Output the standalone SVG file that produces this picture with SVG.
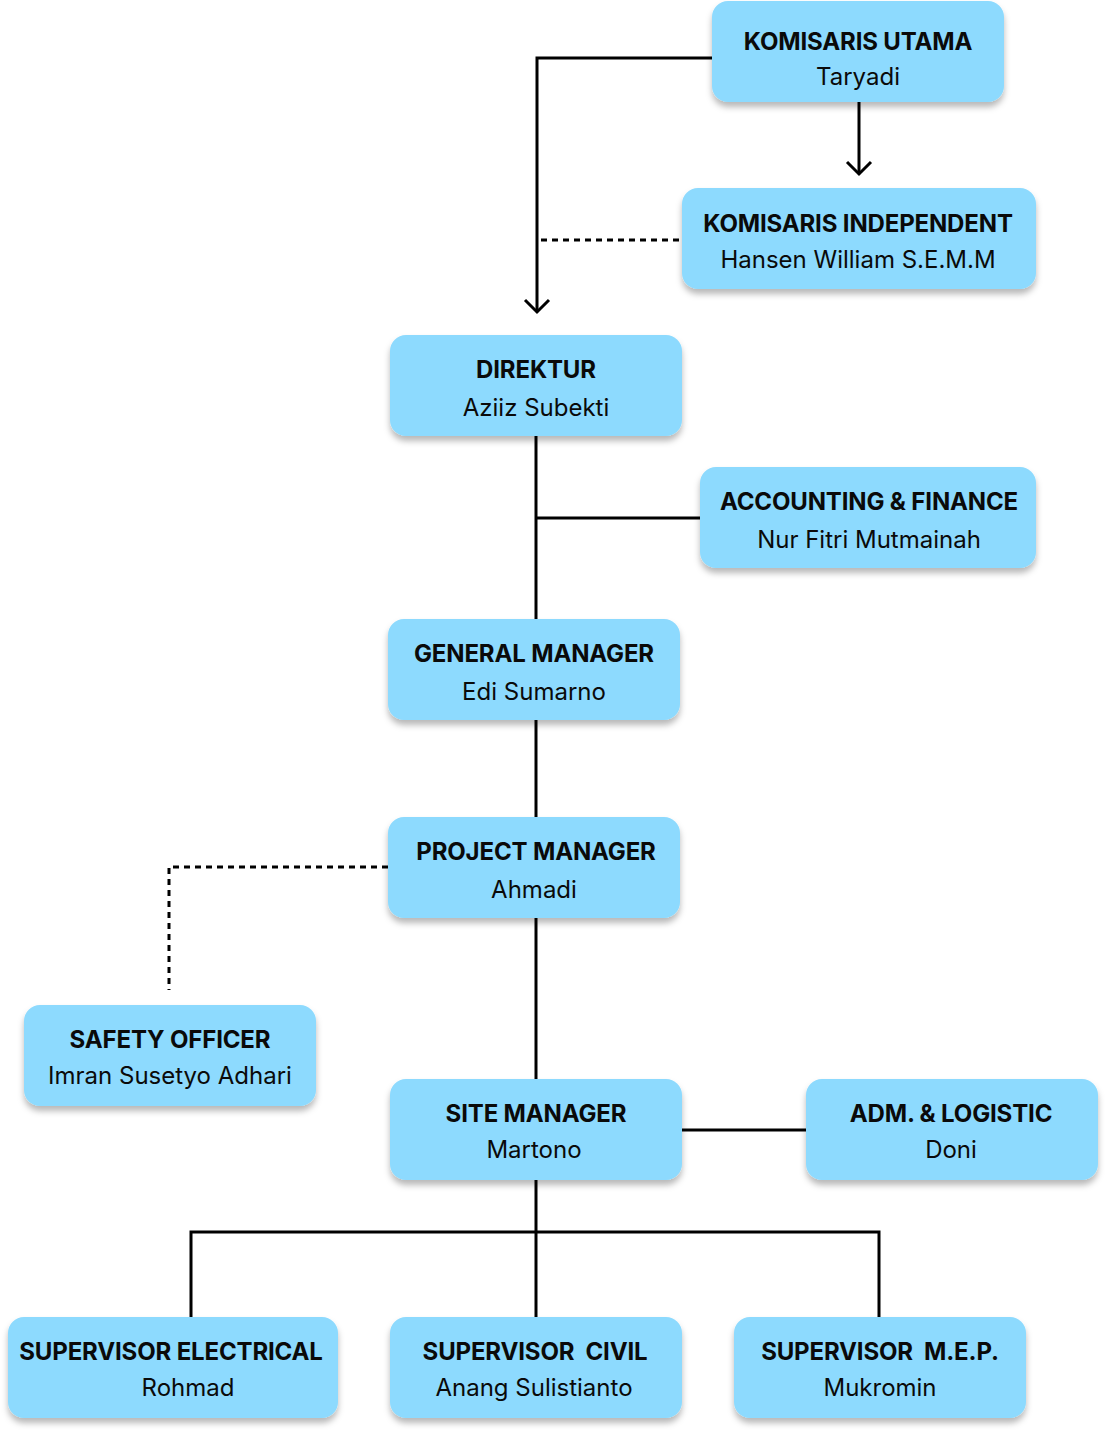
<svg xmlns="http://www.w3.org/2000/svg" width="1108" height="1434" viewBox="0 0 1108 1434">
<style>
.box{fill:#8DDAFE;filter:url(#sh)}
.t{font-family:Inter,"Liberation Sans",sans-serif;font-size:24px;font-weight:700;fill:#0a0a0a;text-anchor:middle;letter-spacing:-0.15px}
.n{font-family:Inter,"Liberation Sans",sans-serif;font-size:24px;font-weight:400;fill:#0a0a0a;text-anchor:middle}
.ln{fill:none;stroke:#000;stroke-width:3}
.dot{fill:none;stroke:#000;stroke-width:3;stroke-dasharray:6 5}
</style>
<defs>
<filter id="sh" x="-10%" y="-20%" width="120%" height="150%">
<feDropShadow dx="0" dy="5" stdDeviation="3" flood-color="#000" flood-opacity="0.28"/>
</filter>
</defs>
<g id="connectors">
<path class="ln" d="M712 58 H537 V311"/>
<path class="ln" d="M525 300 L537 312 L549 300"/>
<path class="ln" d="M859 102 V174"/>
<path class="ln" d="M847 162 L859 174 L871 162"/>
<path class="dot" d="M541 240 H682"/>
<path class="ln" d="M536 436 V619"/>
<path class="ln" d="M536 518 H700"/>
<path class="ln" d="M536 720 V817"/>
<path class="ln" d="M536 918 V1079"/>
<path class="dot" d="M388 867 H169 V990"/>
<path class="ln" d="M682 1130 H806"/>
<path class="ln" d="M536 1180 V1317"/>
<path class="ln" d="M191 1317 V1232 H879 V1317"/>
</g>
<g id="komisaris-utama"><rect class="box" x="712" y="1" width="292" height="101" rx="16"/><text class="t" x="858" y="50">KOMISARIS UTAMA</text><text class="n" x="858" y="85">Taryadi</text></g>
<g id="komisaris-independent"><rect class="box" x="682" y="188" width="354" height="101" rx="16"/><text class="t" x="858" y="232">KOMISARIS INDEPENDENT</text><text class="n" x="858" y="268">Hansen William S.E.M.M</text></g>
<g id="direktur"><rect class="box" x="390" y="335" width="292" height="101" rx="16"/><text class="t" x="536" y="378">DIREKTUR</text><text class="n" x="536" y="416">Aziiz Subekti</text></g>
<g id="accounting"><rect class="box" x="700" y="467" width="336" height="101" rx="16"/><text class="t" x="869" y="510">ACCOUNTING &amp; FINANCE</text><text class="n" x="869" y="548">Nur Fitri Mutmainah</text></g>
<g id="general-manager"><rect class="box" x="388" y="619" width="292" height="101" rx="16"/><text class="t" x="534" y="662">GENERAL MANAGER</text><text class="n" x="534" y="700">Edi Sumarno</text></g>
<g id="project-manager"><rect class="box" x="388" y="817" width="292" height="101" rx="16"/><text class="t" x="536" y="860">PROJECT MANAGER</text><text class="n" x="534" y="898">Ahmadi</text></g>
<g id="safety-officer"><rect class="box" x="24" y="1005" width="292" height="101" rx="16"/><text class="t" x="170" y="1048">SAFETY OFFICER</text><text class="n" x="170" y="1084">Imran Susetyo Adhari</text></g>
<g id="site-manager"><rect class="box" x="390" y="1079" width="292" height="101" rx="16"/><text class="t" x="536" y="1122">SITE MANAGER</text><text class="n" x="534" y="1158">Martono</text></g>
<g id="adm-logistic"><rect class="box" x="806" y="1079" width="292" height="101" rx="16"/><text class="t" x="951" y="1122">ADM. &amp; LOGISTIC</text><text class="n" x="951" y="1158">Doni</text></g>
<g id="supervisor-electrical"><rect class="box" x="8" y="1317" width="330" height="101" rx="16"/><text class="t" x="171" y="1360">SUPERVISOR ELECTRICAL</text><text class="n" x="188" y="1396">Rohmad</text></g>
<g id="supervisor-civil"><rect class="box" x="390" y="1317" width="292" height="101" rx="16"/><text class="t" x="535" y="1360" xml:space="preserve">SUPERVISOR  CIVIL</text><text class="n" x="534" y="1396">Anang Sulistianto</text></g>
<g id="supervisor-mep"><rect class="box" x="734" y="1317" width="292" height="101" rx="16"/><text class="t" x="880" y="1360" xml:space="preserve">SUPERVISOR  M.E.P.</text><text class="n" x="880" y="1396">Mukromin</text></g>
</svg>
